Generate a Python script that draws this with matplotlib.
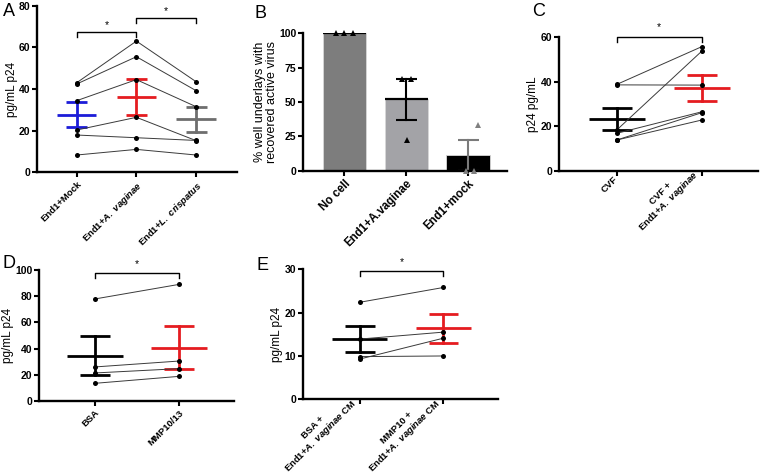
import numpy as np
import matplotlib
matplotlib.use("Agg")
import matplotlib.pyplot as plt

plt.rcParams['font.family'] = ['Liberation Sans', 'DejaVu Sans']
plt.rcParams['mathtext.fontset'] = 'custom'
plt.rcParams['mathtext.it'] = 'Liberation Sans:italic:bold'
plt.rcParams['mathtext.rm'] = 'Liberation Sans:bold'
plt.rcParams['mathtext.bf'] = 'Liberation Sans:bold'

# ---------------- data ----------------
# Panel A (paired samples)
a_labels = ['End1+Mock', r'End1+$\mathit{A.\ vaginae}$', r'End1+$\mathit{L.\ crispatus}$']
a_mock = [43.0, 42.4, 34.4, 20.3, 17.9, 8.3]
a_av = [63.0, 55.5, 44.5, 26.4, 16.6, 11.0]
a_lc = [43.5, 39.2, 31.5, 15.2, 15.3, 8.3]
a_yticks = [0, 20, 40, 60, 80]

# Panel B (bars)
b_labels = ['No cell', 'End1+A.vaginae', 'End1+mock']
b_nocell = [100.0, 100.0, 100.0]
b_av = [66.7, 66.7, 22.2]
b_mock = [33.3, 0.0, 0.0]
b_yticks = [0, 25, 50, 75, 100]

# Panel C
c_labels = ['CVF', 'CVF +\n' + r'End1+$\mathit{A.\ vaginae}$']
c_cvf = [38.8, 38.6, 18.3, 16.8, 13.8, 13.8]
c_cvf_av = [55.8, 38.5, 53.8, 26.5, 26.1, 22.8]
c_yticks = [0, 20, 40, 60]

# Panel D
d_labels = ['BSA', 'MMP10/13']
d_bsa = [77.9, 26.0, 21.4, 13.5]
d_mmp = [89.0, 30.5, 24.7, 18.8]
d_yticks = [0, 20, 40, 60, 80, 100]

# Panel E
e_labels = ['BSA +\n' + r'End1+$\mathit{A.\ vaginae}$ CM',
            'MMP10 +\n' + r'End1+$\mathit{A.\ vaginae}$ CM']
e_bsa = [22.4, 13.9, 9.85, 9.3]
e_mmp = [25.8, 15.5, 10.0, 14.1]
e_yticks = [0, 10, 20, 30]

# ---------------- style ----------------
BLUE = '#1c1cd8'
RED = '#e51c20'
GRAY = '#6e6e6e'
W, H = 760, 475

fig = plt.figure(figsize=(W / 100, H / 100), dpi=100)


def make_ax(x0, x1, ytop, ybot):
    ax = fig.add_axes([x0 / W, 1 - ybot / H, (x1 - x0) / W, (ybot - ytop) / H])
    ax.spines['top'].set_visible(False)
    ax.spines['right'].set_visible(False)
    for s in ('left', 'bottom'):
        ax.spines[s].set_linewidth(1.7)
    ax.tick_params(axis='both', direction='out', length=3.5, width=1.5,
                   labelsize=7.5, pad=1.5)
    ax.patch.set_alpha(0)
    return ax, (ybot - ytop)


def style_ticks(ax, yticks, labels, fs=6.8, single_va='top'):
    ax.set_yticks(yticks)
    ax.set_yticklabels([str(t) for t in yticks], fontweight='bold')
    ax.set_xticks(range(len(labels)))
    ax.set_xticklabels(labels, rotation=45, ha='right', va=single_va,
                       rotation_mode='anchor', fontweight='bold', fontsize=fs,
                       multialignment='center', linespacing=1.05)
    for t in ax.get_xticklabels():
        if '\n' in t.get_text():
            t.set_va('bottom')


def mean_sem(ax, x, vals, color, zorder=2):
    v = np.asarray(vals, dtype=float)
    m = v.mean()
    s = v.std(ddof=1) / np.sqrt(len(v))
    lw = 2.0
    ax.plot([x - 0.33, x + 0.33], [m, m], color=color, lw=lw, zorder=zorder,
            solid_capstyle='butt')
    ax.plot([x, x], [m - s, m + s], color=color, lw=lw, zorder=zorder)
    for yy in (m - s, m + s):
        ax.plot([x - 0.175, x + 0.175], [yy, yy], color=color, lw=lw,
                zorder=zorder, solid_capstyle='butt')


def paired(ax, series):
    n = len(series[0])
    for i in range(n):
        ys = [s[i] for s in series]
        ax.plot(range(len(series)), ys, color='#3a3a3a', lw=0.7, zorder=3)
    for j, s in enumerate(series):
        ax.plot([j] * len(s), s, 'o', color='black', ms=3.6, zorder=4,
                markeredgewidth=0)


def bracket(ax, x1, x2, y, star_y, ymax, hpx):
    d = 5 * ymax / hpx
    ax.plot([x1, x1, x2, x2], [y - d, y, y, y - d], color='black', lw=1.0,
            clip_on=False, zorder=5)
    ax.text((x1 + x2) / 2, star_y, '*', ha='center', va='center', fontsize=7.5,
            clip_on=False)


# ---------------- Panel A ----------------
axA, hA = make_ax(37.3, 236.7, 5.7, 172.3)
axA.set_xlim(-0.66, 2.68)
axA.set_ylim(0, 80)
mean_sem(axA, 0, a_mock, BLUE)
mean_sem(axA, 1, a_av, RED)
mean_sem(axA, 2, a_lc, GRAY)
paired(axA, [a_mock, a_av, a_lc])
style_ticks(axA, a_yticks, a_labels)
axA.set_ylabel('pg/mL p24', fontsize=8.5, labelpad=0.5)
bracket(axA, 0, 1, 67.5, 70.8, 80, hA)
bracket(axA, 1, 2, 74.2, 77.5, 80, hA)
fig.text(3 / W, 1 - 11 / H, 'A', fontsize=13, va='center', ha='left')

# ---------------- Panel B ----------------
axB, hB = make_ax(303.3, 507, 33.3, 170.7)
axB.set_xlim(-0.663, 2.63)
axB.set_ylim(0, 100)
b_series = [b_nocell, b_av, b_mock]
b_colors = ['#7d7d7d', '#a3a3a7', '#000000']
b_err_colors = ['black', 'black', '#7a7a7a']
b_tri_colors = ['black', 'black', '#808080']
b_jitter = [[-0.135, 0.0, 0.135], [-0.075, 0.075, 0.01], [0.155, -0.04, 0.1]]
for i, vals in enumerate(b_series):
    v = np.asarray(vals)
    m = v.mean()
    s = v.std(ddof=1) / np.sqrt(len(v))
    axB.bar(i, m, width=0.7, color=b_colors[i], edgecolor='#d8d8d8',
            linewidth=0.6, zorder=1)
    if i < 2:
        axB.plot([i - 0.35, i + 0.35], [m, m], color='black', lw=1.6, zorder=2,
                 solid_capstyle='butt')
    ec = b_err_colors[i]
    axB.plot([i, i], [m - s, m + s], color=ec, lw=1.5, zorder=2)
    if s > 0:
        for yy in (m - s, m + s):
            axB.plot([i - 0.17, i + 0.17], [yy, yy], color=ec, lw=1.5, zorder=2,
                     solid_capstyle='butt')
    axB.plot(np.array(b_jitter[i]) + i, v, '^', color=b_tri_colors[i], ms=4.2,
             markeredgewidth=0, zorder=4, clip_on=False)
style_ticks(axB, b_yticks, b_labels, fs=8.3)
axB.set_ylabel('% well underlays with\nrecovered active virus', fontsize=9,
               labelpad=0.5, linespacing=1.05)
fig.text(255 / W, 1 - 13 / H, 'B', fontsize=13, va='center', ha='left')

# ---------------- Panel C ----------------
axC, hC = make_ax(559.3, 758, 37.3, 170.7)
axC.set_xlim(-0.675, 1.66)
axC.set_ylim(0, 60)
mean_sem(axC, 0, c_cvf, 'black')
mean_sem(axC, 1, c_cvf_av, RED)
paired(axC, [c_cvf, c_cvf_av])
style_ticks(axC, c_yticks, c_labels, single_va='center')
axC.set_ylabel('p24 pg/mL', fontsize=8.5, labelpad=1.5)
bracket(axC, 0, 1, 60, 64.5, 60, hC)
fig.text(532 / W, 1 - 11 / H, 'C', fontsize=13, va='center', ha='left')

# ---------------- Panel D ----------------
axD, hD = make_ax(39.3, 233.5, 270, 401)
axD.set_xlim(-0.663, 1.65)
axD.set_ylim(0, 100)
mean_sem(axD, 0, d_bsa, 'black')
mean_sem(axD, 1, d_mmp, RED)
paired(axD, [d_bsa, d_mmp])
style_ticks(axD, d_yticks, d_labels)
axD.set_ylabel('pg/mL p24', fontsize=8.5, labelpad=0.5)
bracket(axD, 0, 1, 97.5, 104.5, 100, hD)
fig.text(2 / W, 1 - 263 / H, 'D', fontsize=13, va='center', ha='left')

# ---------------- Panel E ----------------
axE, hE = make_ax(303.3, 498.3, 269.3, 399.3)
axE.set_xlim(-0.68, 1.66)
axE.set_ylim(0, 30)
mean_sem(axE, 0, e_bsa, 'black')
mean_sem(axE, 1, e_mmp, RED)
paired(axE, [e_bsa, e_mmp])
style_ticks(axE, e_yticks, e_labels, fs=6.8, single_va='center')
axE.set_ylabel('pg/mL p24', fontsize=8.5, labelpad=1.5)
bracket(axE, 0, 1, 29.5, 31.6, 30, hE)
fig.text(257 / W, 1 - 266 / H, 'E', fontsize=13, va='center', ha='left')

fig.savefig('out.png', dpi=100)
